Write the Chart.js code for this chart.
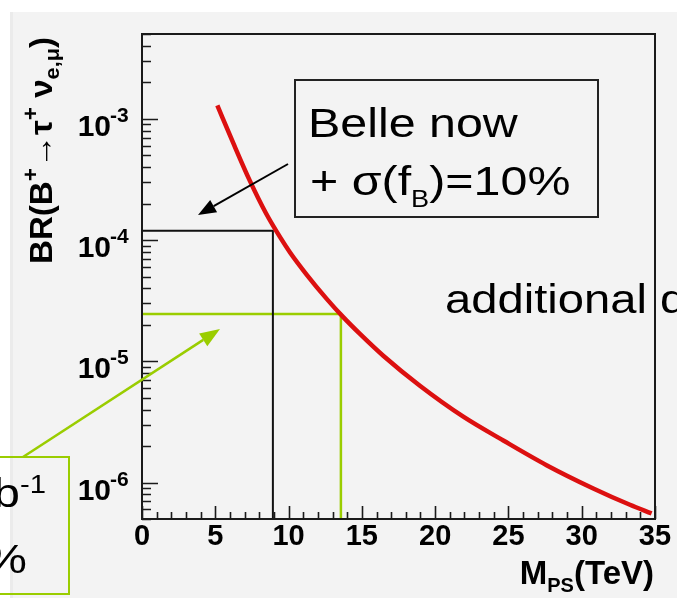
<!DOCTYPE html>
<html>
<head>
<meta charset="utf-8">
<script src="https://cdn.jsdelivr.net/npm/chart.js@4"></script>
<style>
  html, body { margin: 0; padding: 0; background: #ffffff; }
  #chart { display: block; }
</style>
</head>
<body>
<canvas id="chart" width="677" height="606"></canvas>
<script>
// BR(B+ -> tau+ nu) as a function of the pseudoscalar mass
const massTeV = [5.14, 6.23, 7.37, 8.45, 9.41, 10.10, 11.23, 12.6, 13.73, 14.87, 16.46, 18.96, 21.92, 24.65, 27.6, 30.79, 33.29, 34.77];
const branchingRatio = [1.29e-3, 6.29e-4, 3.06e-4, 1.67e-4, 1.06e-4, 7.89e-5, 5.19e-5, 3.27e-5, 2.31e-5, 1.68e-5, 1.11e-5, 6.28e-6, 3.49e-6, 2.22e-6, 1.39e-6, 8.93e-7, 6.55e-7, 5.56e-7];

// limits: [Belle now, additional data]
const limitMass = [8.93, 13.57];
const limitBR = [1.19e-4, 2.45e-5];

const xMajorTicks = [0, 5, 10, 15, 20, 25, 30, 35];
const xTickLabels = ['0', '5', '10', '15', '20', '25', '30', '35'];
const yDecades = [1e-6, 1e-5, 1e-4, 1e-3];
const yExponents = ['-6', '-5', '-4', '-3'];

const xRange = [0, 35];
const yRange = [5e-7, 5e-3];

const fontFamily = '"Liberation Sans", Arial, Helvetica, sans-serif';
const green = '#9acd00';
const bgGray = '#f3f3f3';

function setFont(ctx, p) {
    ctx.font = `${p.weight || 'normal'} ${p.size}px ${fontFamily}`;
}

function richWidth(ctx, parts) {
    let w = 0;
    parts.forEach((p) => {
        setFont(ctx, p);
        w += ctx.measureText(p.t).width;
    });
    return w;
}

// text made of pieces with their own size and baseline shift (sub/superscripts)
function drawRich(ctx, x, y, parts, align, sx) {
    sx = sx || 1;
    ctx.save();
    ctx.translate(x, y);
    ctx.scale(sx, 1);
    const w = richWidth(ctx, parts);
    let cx = 0;
    if (align == 'right') cx = -w;
    if (align == 'center') cx = -w / 2;
    ctx.textAlign = 'left';
    ctx.textBaseline = 'alphabetic';
    ctx.fillStyle = '#000';
    parts.forEach((p) => {
        setFont(ctx, p);
        ctx.fillText(p.t, cx, p.dy || 0);
        cx += ctx.measureText(p.t).width;
    });
    ctx.restore();
}

function arrow(ctx, x1, y1, x2, y2, color, width, headLen, headW) {
    const ang = Math.atan2(y2 - y1, x2 - x1);
    const bx = x2 - headLen * Math.cos(ang);
    const by = y2 - headLen * Math.sin(ang);
    ctx.strokeStyle = color;
    ctx.lineWidth = width;
    ctx.beginPath();
    ctx.moveTo(x1, y1);
    ctx.lineTo(bx, by);
    ctx.stroke();
    ctx.fillStyle = color;
    ctx.beginPath();
    ctx.moveTo(x2, y2);
    ctx.lineTo(bx + headW / 2 * Math.sin(ang), by - headW / 2 * Math.cos(ang));
    ctx.lineTo(bx - headW / 2 * Math.sin(ang), by + headW / 2 * Math.cos(ang));
    ctx.closePath();
    ctx.fill();
}

const background = {
    id: 'background',
    beforeDraw(chart) {
        const ctx = chart.ctx;
        ctx.save();
        ctx.fillStyle = '#ffffff';
        ctx.fillRect(0, 0, chart.width, chart.height);
        ctx.fillStyle = bgGray;
        ctx.fillRect(10, 12, chart.width - 10, 586);
        ctx.fillStyle = '#ebebeb';
        ctx.fillRect(10, 12, 3, 586);
        ctx.restore();
    }
};

// ROOT style frame: ticks pointing into the pad, labels and titles
const rootAxes = {
    id: 'rootAxes',
    afterDatasetsDraw(chart) {
        const ctx = chart.ctx;
        const area = chart.chartArea;
        const x = chart.scales.x;
        const y = chart.scales.y;
        ctx.save();
        ctx.strokeStyle = '#1a1a1a';
        ctx.lineWidth = 1.6;

        ctx.beginPath();
        for (let v = xRange[0]; v <= xRange[1]; v++) {
            const px = Math.round(x.getPixelForValue(v)) + 0.5;
            const len = xMajorTicks.includes(v) ? 13 : 7;
            ctx.moveTo(px, area.bottom);
            ctx.lineTo(px, area.bottom - len);
        }
        for (let e = -7; e <= -3; e++) {
            for (let k = 1; k <= 9; k++) {
                const v = k * Math.pow(10, e);
                if (v < yRange[0] || v > yRange[1]) continue;
                const py = Math.round(y.getPixelForValue(v)) + 0.5;
                const len = k == 1 ? 16 : 9;
                ctx.moveTo(area.left, py);
                ctx.lineTo(area.left + len, py);
            }
        }
        ctx.stroke();

        ctx.lineWidth = 2;
        ctx.strokeRect(area.left, area.top, area.right - area.left, area.bottom - area.top);

        xMajorTicks.forEach((v, i) => {
            drawRich(ctx, x.getPixelForValue(v), 545, [{ t: xTickLabels[i], size: 29, weight: 'bold' }], 'center');
        });
        yDecades.forEach((v, i) => {
            const py = y.getPixelForValue(v);
            drawRich(ctx, 111, py + 17, [{ t: '10', size: 30, weight: 'bold' }], 'right');
            drawRich(ctx, 110, py + 3, [{ t: yExponents[i], size: 21, weight: 'bold' }], 'left');
        });

        drawRich(ctx, 654, 584, [
            { t: 'M', size: 33, weight: 'bold' },
            { t: 'PS', size: 20, weight: 'bold', dy: 8 },
            { t: '(TeV)', size: 33, weight: 'bold' }
        ], 'right');

        const yTitle = [
            { t: 'BR(B', size: 32, weight: 'bold' },
            { t: '+', size: 22, weight: 'bold', dy: -14 },
            { t: '\u2192', size: 32, weight: 'bold' },
            { t: '\u03c4', size: 32, weight: 'bold' },
            { t: '+', size: 22, weight: 'bold', dy: -14 },
            { t: ' \u03bd', size: 32, weight: 'bold' },
            { t: 'e,\u03bc', size: 21, weight: 'bold', dy: 7 },
            { t: ')', size: 32, weight: 'bold' }
        ];
        ctx.save();
        ctx.translate(52, 264);
        ctx.rotate(-Math.PI / 2);
        drawRich(ctx, 0, 0, yTitle, 'left', 227 / richWidth(ctx, yTitle));
        ctx.restore();
        ctx.restore();
    },
    afterDraw(chart) {
        const ctx = chart.ctx;
        ctx.save();

        // Belle box
        ctx.fillStyle = bgGray;
        ctx.fillRect(295, 80, 303, 137);
        ctx.strokeStyle = '#222';
        ctx.lineWidth = 2;
        ctx.strokeRect(295, 80, 303, 137);
        drawRich(ctx, 308, 137, [{ t: 'Belle now', size: 41 }], 'left', 1.18);
        drawRich(ctx, 310, 195, [
            { t: '+ \u03c3(f', size: 41 },
            { t: 'B', size: 23, dy: 12 },
            { t: ')=10%', size: 41 }
        ], 'left', 1.18);
        arrow(ctx, 288, 164, 198, 215, '#000', 2, 18, 14);

        drawRich(ctx, 445, 313, [{ t: 'additional data', size: 41 }], 'left', 1.15);
        ctx.strokeStyle = '#1a1a1a';
        ctx.lineWidth = 2;
        ctx.beginPath();
        ctx.moveTo(chart.chartArea.right, chart.chartArea.top);
        ctx.lineTo(chart.chartArea.right, chart.chartArea.bottom);
        ctx.stroke();

        // box of the future scenario, cut by the left edge
        ctx.strokeStyle = green;
        ctx.lineWidth = 2;
        ctx.strokeRect(-10, 457, 79, 137);
        drawRich(ctx, 46, 507, [
            { t: '50 ab', size: 41 },
            { t: '-1', size: 25, dy: -14 }
        ], 'right', 1.17);
        drawRich(ctx, 27, 573, [{ t: '+ \u03c3(f', size: 41 }, { t: 'B', size: 23, dy: 12 }, { t: ')=5%', size: 41 }], 'right', 1.17);
        arrow(ctx, 23, 457, 220, 329, green, 2.5, 20, 15);

        ctx.restore();
    }
};

const curve = massTeV.map((m, i) => ({ x: m, y: branchingRatio[i] }));
const belleLimit = [
    { x: xRange[0], y: limitBR[0] },
    { x: limitMass[0], y: limitBR[0] },
    { x: limitMass[0], y: yRange[0] }
];
const futureLimit = [
    { x: xRange[0], y: limitBR[1] },
    { x: limitMass[1], y: limitBR[1] },
    { x: limitMass[1], y: yRange[0] }
];

new Chart(document.getElementById('chart'), {
    type: 'line',
    data: {
        datasets: [
            {
                data: curve,
                borderColor: '#dc1010',
                borderWidth: 4.5,
                pointRadius: 0,
                cubicInterpolationMode: 'monotone'
            },
            {
                data: belleLimit,
                borderColor: '#111111',
                borderWidth: 2,
                pointRadius: 0,
                tension: 0
            },
            {
                data: futureLimit,
                borderColor: green,
                borderWidth: 2.5,
                pointRadius: 0,
                tension: 0
            }
        ]
    },
    options: {
        responsive: false,
        animation: false,
        devicePixelRatio: 1,
        layout: {
            padding: { left: 142, top: 34, right: 22, bottom: 87 }
        },
        plugins: {
            legend: { display: false },
            tooltip: { enabled: false }
        },
        scales: {
            x: { type: 'linear', min: xRange[0], max: xRange[1], display: false },
            y: { type: 'logarithmic', min: yRange[0], max: yRange[1], display: false }
        }
    },
    plugins: [background, rootAxes]
});
</script>
</body>
</html>
